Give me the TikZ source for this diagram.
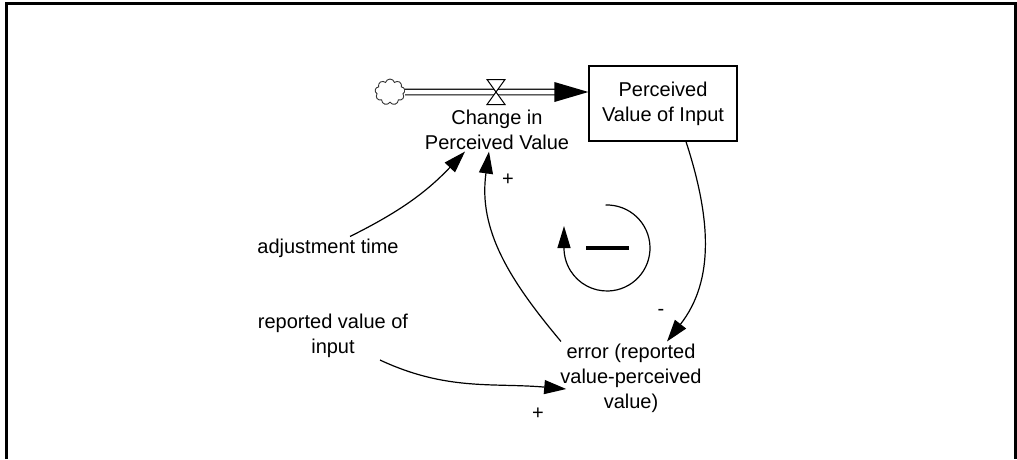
\documentclass[tikz,border=0pt]{standalone}
\usepackage{fontspec}
\setmainfont{Liberation Sans}
\usetikzlibrary{shapes,shapes.symbols,arrows.meta,positioning,calc}

\begin{document}
\begin{tikzpicture}[x=1pt, y=1pt,
  txt/.style={font=\fontsize{20}{25}\selectfont, align=center, inner sep=2pt},
  link/.style={line width=1.2pt, -{Triangle[length=22pt,width=14pt]}},
  sign/.style={font=\fontsize{20}{20}\selectfont, inner sep=0pt}]
  \useasboundingbox (0,0) rectangle (1017,-459);

  % Frame
  \draw[line width=3pt] (6,-459) -- (6,-3) -- (1015,-3) -- (1015,-459);

  % Stock and flow
  \node[txt, draw, line width=1.2pt, minimum width=148pt, minimum height=75pt] (stock) at (663,-103.5) {Perceived\\Value of Input};
  \node[cloud, draw=black!80, line width=0.9pt, cloud puffs=9, aspect=1.1, minimum width=30pt, minimum height=26pt, inner sep=0pt] (source) at (390,-92) {};
  \coordinate (inflow) at (source -| stock.west);
  \coordinate (valve) at (496,-92);
  \draw[line width=1.2pt, double distance=4.5pt, shorten >=32pt] (source.east) -- (inflow);
  \fill (inflow) -- ++(-34,10) -- ++(0,-20) -- cycle;
  \draw[fill=white, line width=1pt] ($(valve)+(-9,12.5)$) -- ++(18,0) -- ++(-18,-25) -- ++(18,0) -- cycle;
  \node[txt] (flowlbl) at (497,-129.5) {Change in\\Perceived Value};

  % Auxiliaries
  \node[txt] (adjust) at (328,-248) {adjustment time};
  \node[txt] (reported) at (333,-336) {reported value of\\input};
  \node[txt] (error) at (631,-378) {error (reported\\value-perceived\\value)};

  % Links
  \draw[link] ([xshift=22pt]adjust.north) to[bend right=10] ([xshift=-32pt]flowlbl.south);
  \draw[link] ([xshift=-70pt]error.north) to[out=130, in=-98] ([xshift=-8pt]flowlbl.south);
  \draw[link] ([xshift=23pt]stock.south) to[out=-72, in=52] ([xshift=36pt]error.north);
  \draw[link] ([xshift=47pt]reported.south) to[out=-25, in=175] ([xshift=8pt,yshift=-11pt]error.west);

  % Polarities
  \node[sign] (plusA) at (508,-180) {+};
  \node[sign] (minusA) at (661,-312) {-};
  \node[sign] (plusB) at (538,-414) {+};

  % Loop symbol
  \coordinate (loop) at (607,-248);
  \draw[line width=1.2pt, -{Triangle[length=22pt,width=13pt]}] (loop) ++(92:43) arc[start angle=92, end angle=-180, radius=43] -- ++(0,22);
  \draw[line width=4pt] ($(loop)+(-21,0)$) -- ($(loop)+(22,0)$);
\end{tikzpicture}
\end{document}
